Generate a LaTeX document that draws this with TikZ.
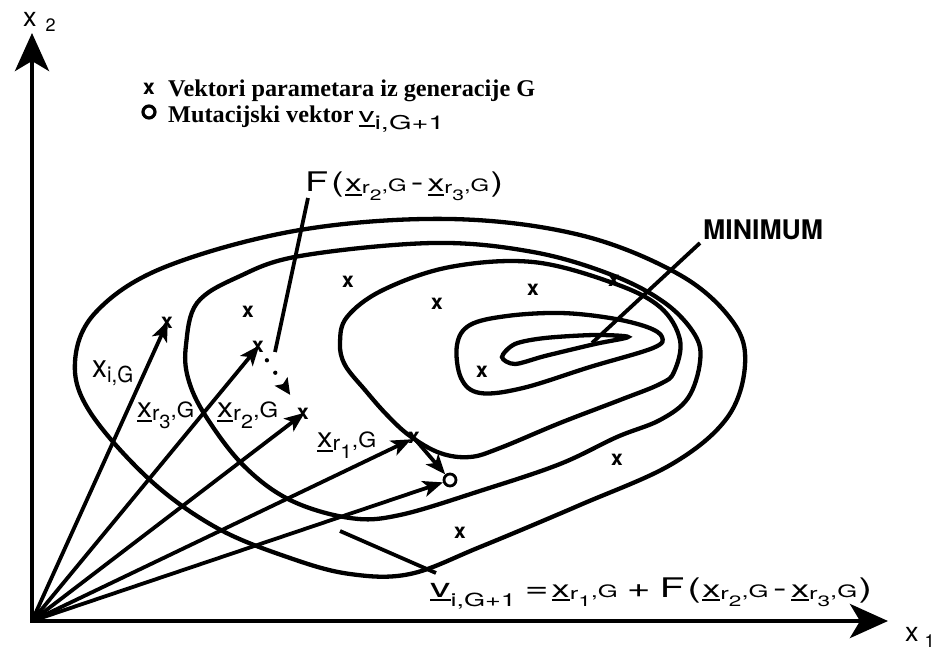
\documentclass[tikz,border=0pt]{standalone}
\usepackage{graphicx}
\usepackage{fontspec}
\setmainfont{TeX Gyre Heros}
\newfontfamily\legendfont{Liberation Serif}
\usetikzlibrary{arrows.meta,calc}
\newsavebox\fitbox
\newlength\fitlen
\newcommand\fs[1]{\fontsize{#1}{#1}\selectfont}
\newcommand\fitw[2]{\sbox\fitbox{#2}\setlength\fitlen{\wd\fitbox}\pgfmathsetmacro\fitf{#1/\fitlen}\scalebox{\fitf}[1]{\usebox\fitbox}}
\newcommand\ulx[1]{\vtop{\hbox{#1}\kern2pt\hrule height 2pt}}
% underlined x, subscript r, sub-subscript digit, then ",G"
\newcommand\xrg[5]{\ulx{\fs{#1}x}\raisebox{-2pt}{\fs{#2}r}\raisebox{-#5pt}{\fs{#3}#4}{\fs{#2},G}}
\newcommand\fdiff{\fs{27}F\hspace{2pt}(\hspace{1pt}\xrg{24}{17}{15}{2}{9}\hspace{3pt}-\hspace{3pt}\xrg{24}{17}{15}{3}{9}\hspace{1pt})}
\begin{document}
\sbox\fitbox{\legendfont\bfseries\fs{24}Vektori parametara iz generacije G}%
\setlength\fitlen{\wd\fitbox}%
\pgfmathsetmacro\legf{367/\fitlen}%
\begin{tikzpicture}[x=1pt,y=-1pt,
  cont/.style={line width=4.3pt},
  vec/.style={line width=3.8pt,-{Stealth[length=20pt,width=16pt,inset=5pt]}},
  axis/.style={line width=4.5pt,{Stealth[length=38pt,width=34pt,inset=10pt]}-{Stealth[length=38pt,width=34pt,inset=10pt]}},
  mk/.style={inner sep=0pt,font=\fs{21}\bfseries},
  ring/.style={circle,draw,line width=2.8pt,minimum size=12pt,inner sep=0pt},
  lbl/.style={inner sep=0pt,anchor=base west},
  ptr/.style={line width=3.8pt}]
\useasboundingbox (0,0) rectangle (938,652);
\fill[white] (0,0) rectangle (938,652);

% axes
\coordinate (O) at (32,621);
\coordinate (Ytip) at (32,33);
\coordinate (Xtip) at (888,621);
\draw[axis] (Ytip) -- (O) -- (Xtip);
\node[lbl] (x2lab) at (23,27) {\fs{27}x\hspace{9pt}\raisebox{-5pt}{\fs{18}2}};
\node[lbl] (x1lab) at (905,641) {\fs{27}x\hspace{6pt}\raisebox{-6pt}{\fs{18}1}};

% contours
\draw[cont] plot[smooth cycle,tension=0.6] coordinates {(75,362) (96,312) (165,267) (300,230) (450,219) (580,235) (680,275) (733,322) (745,365) (727,418) (672,464) (580,505) (480,547) (410,574) (350,574) (290,558) (217,528) (150,480) (90,412)};
\draw[cont] plot[smooth cycle,tension=0.6] coordinates {(186,345) (197,303) (238,277) (300,256) (433,243) (533,252) (612,275) (665,303) (695,335) (700,362) (688,398) (660,420) (617,437) (560,464) (483,490) (400,515) (350,518) (290,500) (243,465) (205,415) (188,378)};
\draw[cont] plot[smooth cycle,tension=0.6] coordinates {(340,343) (347,317) (383,290) (450,267) (533,262) (613,283) (660,307) (680,340) (674,372) (660,384) (620,400) (560,423) (500,448) (470,457) (440,453) (410,436) (387,415) (365,390) (345,365)};
\draw[cont] plot[smooth cycle,tension=0.6] coordinates {(457,345) (470,325) (507,316) (560,313) (610,318) (647,327) (662,337) (653,348) (590,367) (523,388) (480,393) (461,378)};
\draw[cont] plot[smooth cycle,tension=0.5] coordinates {(502,357) (515,344) (545,338) (595,335) (628,337) (595,344) (545,356) (515,364)};

% population markers
\node[mk] (m1) at (348,282) {x};
\node[mk] (m2) at (248,312) {x};
\node[mk] (m3) at (437,304) {x};
\node[mk] (m4) at (533,290) {x};
\node[mk] (m5) at (482,372) {x};
\node[mk] (m6) at (614,281) {x};
\node[mk] (m7) at (617,460) {x};
\node[mk] (m8) at (460,533) {x};

% vector end points
\node[mk] (pi) at (167,323) {x};
\node[mk] (p3) at (258,347) {x};
\node[mk] (p2) at (303,414) {x};
\node[mk] (p1) at (414,438) {x};
\node[ring] (pv) at (450,480) {};

% vectors
\draw[vec,shorten >=-2pt] (O) -- (pi.center);
\draw[vec,shorten >=-2pt] (O) -- (p3.center);
\draw[vec,shorten >=-2pt] (O) -- (p2.center);
\draw[vec,shorten >=3pt] (O) -- (p1.center);
\draw[vec] (O) -- (pv);
\draw[vec] (p1.center) -- (pv);
% scaled difference (dotted)
\draw[line width=4.3pt,line cap=round,dash pattern=on 0pt off 15pt,shorten <=16pt,shorten >=23pt,-{Stealth[length=16pt,width=15pt,inset=3pt]}] (p3.center) -- (p2.center);

% labels
\node[lbl] (lxi) at (92,378) {\fitw{41}{\fs{32}x\raisebox{-5pt}{\fs{22}i,G}}};
\node[lbl] (lx3) at (137,418) {\fitw{57}{\xrg{28}{21}{19}{3}{11}}};
\node[lbl] (lx2) at (217,418) {\fitw{61}{\xrg{28}{21}{19}{2}{11}}};
\node[lbl] (lx1) at (317,448) {\fitw{59}{\xrg{28}{21}{19}{1}{11}}};

\node[lbl] (Flab) at (305,192) {\fitw{198}{\fdiff}};
\coordinate (Fa) at (308,198);
\coordinate (Fb) at (275,352);
\draw[ptr] (Fa) -- (Fb);

\node[lbl] (minlab) at (703,240) {\fitw{120}{\fs{27}\bfseries MINIMUM}};
\coordinate (Ma) at (700,243);
\coordinate (Mb) at (592,343);
\draw[ptr] (Ma) -- (Mb);

\node[lbl] (formula) at (430,597) {\fitw{442}{\fs{27}\ulx{v}\raisebox{-9pt}{\fs{18}i,G+1}\hspace{6pt}=\hspace{2pt}\xrg{24}{17}{15}{1}{9}\hspace{6pt}+\hspace{6pt}\fdiff}};
\coordinate (Va) at (340,531);
\coordinate (Vb) at (436,573);
\draw[ptr] (Va) -- (Vb);

% legend
\node[mk] (legx) at (149,89) {x};
\node[ring,line width=3.2pt,minimum size=12pt] (lego) at (149,112) {};
\node[lbl] (leg1) at (168,97) {\scalebox{\legf}[1]{\legendfont\bfseries\fs{24}Vektori parametara iz generacije G}};
\node[lbl] (leg2) at (168,123) {\scalebox{\legf}[1]{\legendfont\bfseries\fs{24}Mutacijski vektor}\hspace{5pt}\fitw{86}{\fs{21}\ulx{v}\raisebox{-7pt}{\fs{19}i,G+1}}};
\end{tikzpicture}
\end{document}
